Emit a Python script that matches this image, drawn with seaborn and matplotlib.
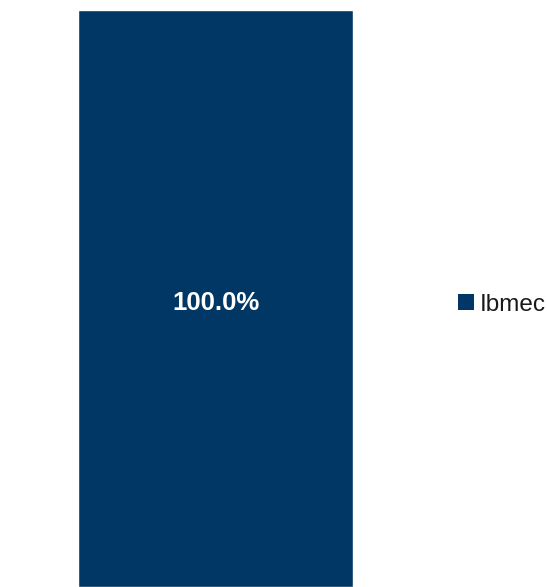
import matplotlib
matplotlib.use("Agg")
import matplotlib.pyplot as plt
import seaborn as sns
import pandas as pd
from matplotlib.patches import Patch

categories = ["Ibmec"]
values = [100.0]
labels = ["100.0%"]

df = pd.DataFrame({"x": ["" for _ in categories], "cat": categories, "val": values})

sns.set_style("white")
plt.rcParams['font.family'] = ['Liberation Sans', 'DejaVu Sans']

W, H = 547, 587
fig = plt.figure(figsize=(W / 100, H / 100), dpi=100)
ax = fig.add_axes([78 / W, 0, (353 - 78) / W, 577 / H])

color = "#003764"
sns.barplot(data=df, x="x", y="val", hue="cat", palette=[color], width=0.8,
            ax=ax, legend=False, saturation=1)
ax.set_xlim(-0.4, 0.4)
ax.set_ylim(0, 100)
ax.axis("off")

for p, lab in zip(ax.patches, labels):
    ax.text(p.get_x() + p.get_width() / 2, p.get_height() * 0.493, lab,
            ha="center", va="center", color="white", fontsize=18.5, fontweight="bold")

leg = fig.legend(handles=[Patch(facecolor=color, edgecolor="none", label=categories[0])],
                 loc="center left", bbox_to_anchor=(458 / W, 1 - 305 / H), frameon=False,
                 fontsize=17.5, handlelength=0.64, handleheight=0.64, handletextpad=0.25,
                 borderpad=0, borderaxespad=0)
for t in leg.get_texts():
    t.set_color("#1a1a1a")

fig.savefig("out.png", dpi=100)
